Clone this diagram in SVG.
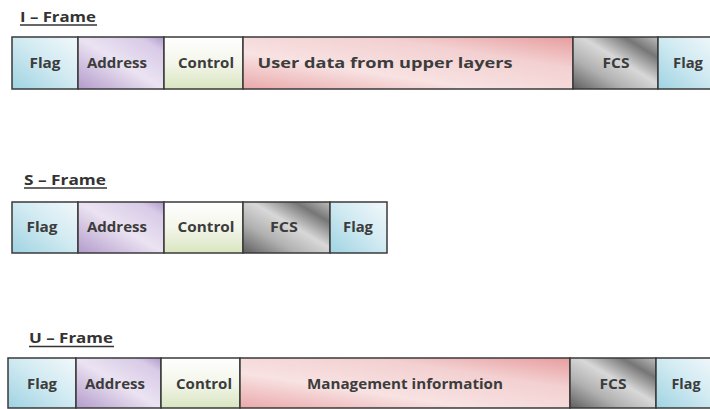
<svg xmlns="http://www.w3.org/2000/svg" width="710" height="409" viewBox="0 0 710 409">
  <style>
    .cell { stroke: #3a3a3a; stroke-width: 1.5; }
    .lbl { font-family: "Open Sans", "Liberation Sans", sans-serif; font-weight: 700; font-size: 15px; fill: #3c3c3c; text-anchor: middle; }
    .ttl { font-family: "Open Sans", "Liberation Sans", sans-serif; font-weight: 700; font-size: 13.5px; fill: #333; }
    .ul { stroke: #333; stroke-width: 1.3; }
  </style>
  <defs>
    <linearGradient id="gFlag" x1="0" y1="1" x2="1" y2="0">
      <stop offset="0" stop-color="#9fd3e2"/>
      <stop offset="0.55" stop-color="#d3ebf2"/>
      <stop offset="1" stop-color="#f1f8fb"/>
    </linearGradient>
    <linearGradient id="gAddr" x1="0" y1="1" x2="1" y2="0">
      <stop offset="0" stop-color="#b39bcb"/>
      <stop offset="0.5" stop-color="#ebe3f2"/>
      <stop offset="0.85" stop-color="#d8cbe7"/>
      <stop offset="1" stop-color="#b09acb"/>
    </linearGradient>
    <linearGradient id="gCtrl" x1="0" y1="0" x2="0" y2="1">
      <stop offset="0" stop-color="#ffffff"/>
      <stop offset="0.5" stop-color="#f3f6ea"/>
      <stop offset="1" stop-color="#d9e5c0"/>
    </linearGradient>
    <linearGradient id="gData" x1="0" y1="1" x2="1" y2="0">
      <stop offset="0" stop-color="#eaa8aa"/>
      <stop offset="0.35" stop-color="#f8e2e2"/>
      <stop offset="0.7" stop-color="#f3d0d1"/>
      <stop offset="1" stop-color="#e79d9e"/>
    </linearGradient>
    <linearGradient id="gFcs" x1="0" y1="1" x2="1" y2="0">
      <stop offset="0" stop-color="#5e5e5e"/>
      <stop offset="0.3" stop-color="#b0b0b0"/>
      <stop offset="0.55" stop-color="#d8d8d8"/>
      <stop offset="0.8" stop-color="#767676"/>
      <stop offset="1" stop-color="#bdbdbd"/>
    </linearGradient>
  </defs>

  <rect width="710" height="409" fill="#ffffff"/>

  <!-- I-Frame -->
  <g id="i-frame">
    <text class="ttl" x="20" y="22" textLength="76" lengthAdjust="spacingAndGlyphs">I – Frame</text>
    <line class="ul" x1="20" y1="25" x2="97" y2="25"/>
    <g id="i-flag1"><rect class="cell" x="12" y="37" width="66" height="52" fill="url(#gFlag)"/><text class="lbl" x="45" y="68" textLength="31" lengthAdjust="spacingAndGlyphs">Flag</text></g>
    <g id="i-address"><rect class="cell" x="78" y="37" width="86" height="52" fill="url(#gAddr)"/><text class="lbl" x="117" y="68" textLength="60" lengthAdjust="spacingAndGlyphs">Address</text></g>
    <g id="i-control"><rect class="cell" x="164" y="37" width="79" height="52" fill="url(#gCtrl)"/><text class="lbl" x="206" y="68" textLength="56" lengthAdjust="spacingAndGlyphs">Control</text></g>
    <g id="i-data"><rect class="cell" x="243" y="37" width="330" height="52" fill="url(#gData)"/><text class="lbl" x="385" y="68" textLength="255" lengthAdjust="spacingAndGlyphs">User data from upper layers</text></g>
    <g id="i-fcs"><rect class="cell" x="573" y="37" width="85" height="52" fill="url(#gFcs)"/><text class="lbl" x="616" y="68" textLength="27" lengthAdjust="spacingAndGlyphs">FCS</text></g>
    <g id="i-flag2"><rect class="cell" x="658" y="37" width="60" height="52" fill="url(#gFlag)"/><text class="lbl" x="688" y="68" textLength="30" lengthAdjust="spacingAndGlyphs">Flag</text></g>
  </g>

  <!-- S-Frame -->
  <g id="s-frame">
    <text class="ttl" x="24" y="185" textLength="82" lengthAdjust="spacingAndGlyphs">S – Frame</text>
    <line class="ul" x1="24" y1="188" x2="107" y2="188"/>
    <g id="s-flag1"><rect class="cell" x="12" y="202" width="66" height="51" fill="url(#gFlag)"/><text class="lbl" x="42" y="232" textLength="31" lengthAdjust="spacingAndGlyphs">Flag</text></g>
    <g id="s-address"><rect class="cell" x="78" y="202" width="86" height="51" fill="url(#gAddr)"/><text class="lbl" x="117" y="232" textLength="60" lengthAdjust="spacingAndGlyphs">Address</text></g>
    <g id="s-control"><rect class="cell" x="164" y="202" width="79" height="51" fill="url(#gCtrl)"/><text class="lbl" x="206" y="232" textLength="57" lengthAdjust="spacingAndGlyphs">Control</text></g>
    <g id="s-fcs"><rect class="cell" x="243" y="202" width="87" height="51" fill="url(#gFcs)"/><text class="lbl" x="284" y="232" textLength="28" lengthAdjust="spacingAndGlyphs">FCS</text></g>
    <g id="s-flag2"><rect class="cell" x="330" y="202" width="57" height="51" fill="url(#gFlag)"/><text class="lbl" x="358" y="232" textLength="30" lengthAdjust="spacingAndGlyphs">Flag</text></g>
  </g>

  <!-- U-Frame -->
  <g id="u-frame">
    <text class="ttl" x="29" y="343" textLength="84" lengthAdjust="spacingAndGlyphs">U – Frame</text>
    <line class="ul" x1="29" y1="346.5" x2="114" y2="346.5"/>
    <g id="u-flag1"><rect class="cell" x="8" y="358" width="68" height="50" fill="url(#gFlag)"/><text class="lbl" x="42" y="389" textLength="30" lengthAdjust="spacingAndGlyphs">Flag</text></g>
    <g id="u-address"><rect class="cell" x="76" y="358" width="85" height="50" fill="url(#gAddr)"/><text class="lbl" x="115" y="389" textLength="60" lengthAdjust="spacingAndGlyphs">Address</text></g>
    <g id="u-control"><rect class="cell" x="161" y="358" width="79" height="50" fill="url(#gCtrl)"/><text class="lbl" x="204" y="389" textLength="56" lengthAdjust="spacingAndGlyphs">Control</text></g>
    <g id="u-mgmt"><rect class="cell" x="240" y="358" width="330" height="50" fill="url(#gData)"/><text class="lbl" x="405" y="389" textLength="196" lengthAdjust="spacingAndGlyphs">Management information</text></g>
    <g id="u-fcs"><rect class="cell" x="570" y="358" width="86" height="50" fill="url(#gFcs)"/><text class="lbl" x="613" y="389" textLength="27" lengthAdjust="spacingAndGlyphs">FCS</text></g>
    <g id="u-flag2"><rect class="cell" x="656" y="358" width="60" height="50" fill="url(#gFlag)"/><text class="lbl" x="686" y="389" textLength="29" lengthAdjust="spacingAndGlyphs">Flag</text></g>
  </g>

  <!-- connectors: none in this diagram -->
  <g id="connectors"/>
</svg>
